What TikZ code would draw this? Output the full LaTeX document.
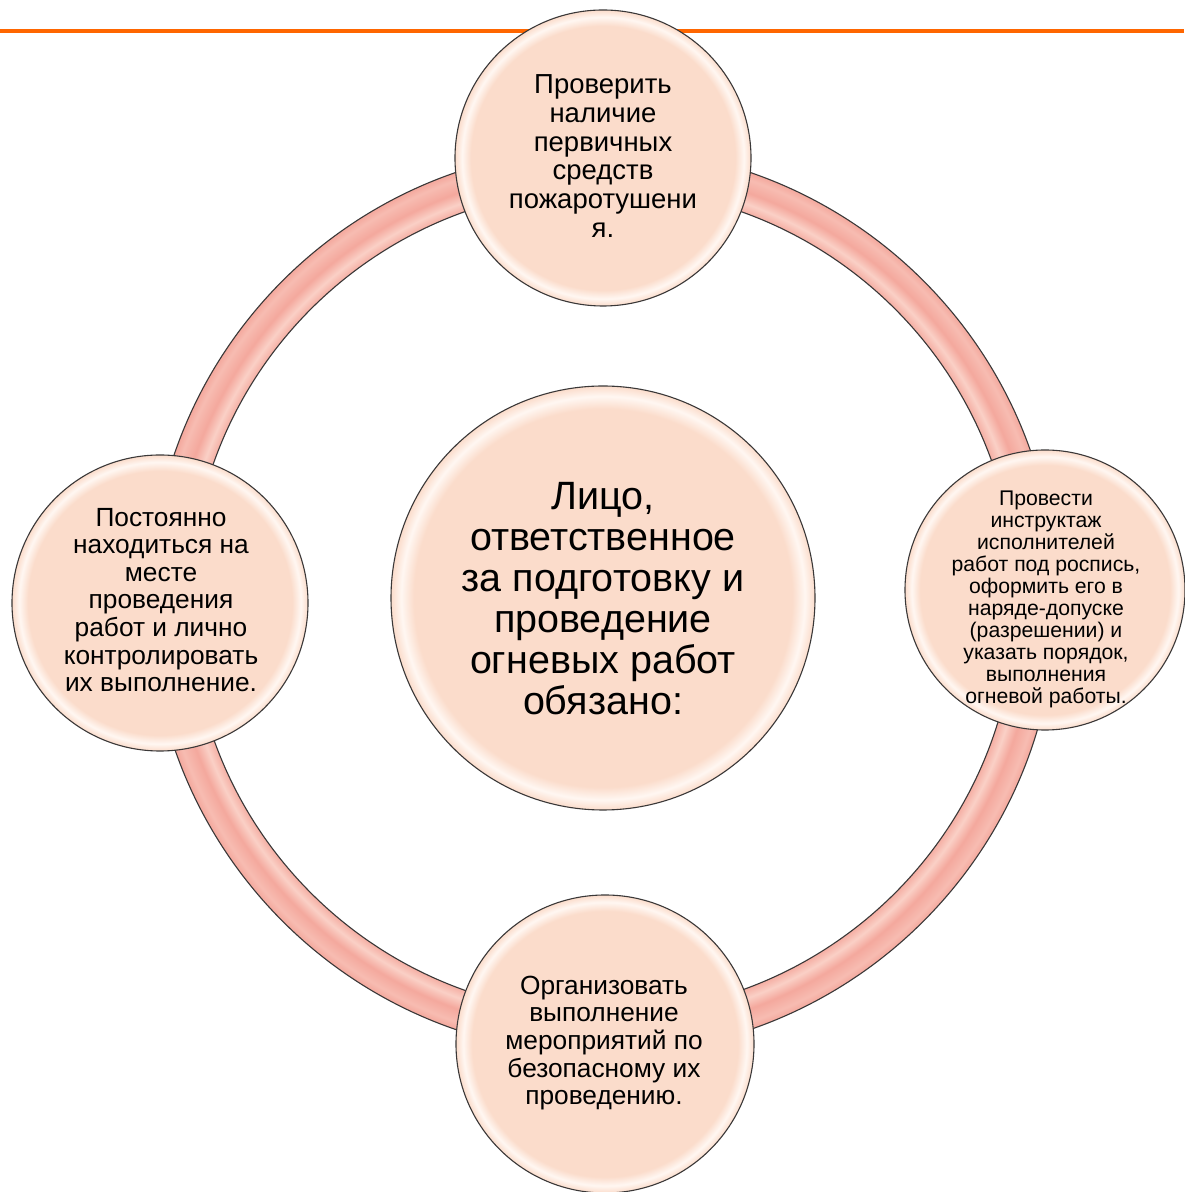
\documentclass[tikz,border=0pt]{standalone}
\usepackage{fontspec}
\setmainfont{Liberation Sans}
\definecolor{peach}{HTML}{FBDCCB}
\definecolor{peachrim}{HTML}{FFF7F2}
\definecolor{ringpink}{HTML}{F4A89D}
\definecolor{ringlight}{HTML}{FAD0C6}
\definecolor{orangeline}{HTML}{FF6600}
\definecolor{edgegray}{HTML}{3A3838}
\pgfdeclareradialshading{bubbleshade}{\pgfpoint{0bp}{0bp}}{color(0bp)=(peach); color(22.3bp)=(peach); color(23.8bp)=(peachrim); color(25bp)=(peach); color(50bp)=(peach)}
\pgfdeclareradialshading{ringshade}{\pgfpoint{0bp}{0bp}}{color(0bp)=(ringpink); color(22.7bp)=(ringpink); color(23.3bp)=(ringlight); color(23.9bp)=(ringpink); color(24.6bp)=(ringlight!50!ringpink); color(25bp)=(ringpink); color(50bp)=(ringpink)}
\tikzset{
  x=1pt, y=1pt,
  bubble/.style={circle, draw=edgegray, line width=1.1pt, shading=bubbleshade, inner sep=0pt},
  bigtext/.style={align=center, inner sep=0pt, font=\fontsize{39.5}{41}\selectfont},
  midtext/.style={align=center, inner sep=0pt, font=\fontsize{27.5}{28.8}\selectfont},
  sidetext/.style={align=center, inner sep=0pt, font=\fontsize{26.3}{27.6}\selectfont},
  smalltext/.style={align=center, inner sep=0pt, font=\fontsize{21.2}{22}\selectfont},
}
\begin{document}
\begin{tikzpicture}
\useasboundingbox (0,0) rectangle (1184,1192);
\fill[white] (0,0) rectangle (1184,1192);
% orange rule
\coordinate (ruleL) at (0,1161);
\coordinate (ruleR) at (1184,1161);
\draw[orangeline, line width=3.2pt] (ruleL) -- (ruleR);
% ring
\coordinate (ringc) at (603,591);
\shade[shading=ringshade, even odd rule] (ringc) circle[radius=453] (ringc) circle[radius=413];
\draw[edgegray, line width=1.1pt] (ringc) circle[radius=453] (ringc) circle[radius=413];
% bubbles
\node[bubble, minimum size=296pt] (top) at (603,1034) {};
\node[bubble, minimum size=298pt] (bottom) at (605,148) {};
\node[bubble, minimum size=296pt] (left) at (160,589) {};
\node[bubble, minimum size=280pt] (right) at (1045,602) {};
\node[bubble, minimum size=424pt] (center) at (603,594) {};
% texts
\node[midtext] (toplabel) at (603,1036) {Проверить\\наличие\\первичных\\средств\\пожаротушени\\я.};
\node[sidetext] (bottomlabel) at (604,149) {Организовать\\выполнение\\мероприятий по\\безопасному их\\проведению.};
\node[sidetext] (leftlabel) at (161,592) {Постоянно\\находиться на\\месте\\проведения\\работ и лично\\контролировать\\их выполнение.};
\node[smalltext] (rightlabel) at (1046,593) {Провести\\инструктаж\\исполнителей\\работ под роспись,\\оформить его в\\наряде-допуске\\(разрешении) и\\указать порядок,\\выполнения\\огневой работы.};
\node[bigtext] (centerlabel) at (603,593) {Лицо,\\ответственное\\за подготовку и\\проведение\\огневых работ\\обязано:};
\end{tikzpicture}
\end{document}
